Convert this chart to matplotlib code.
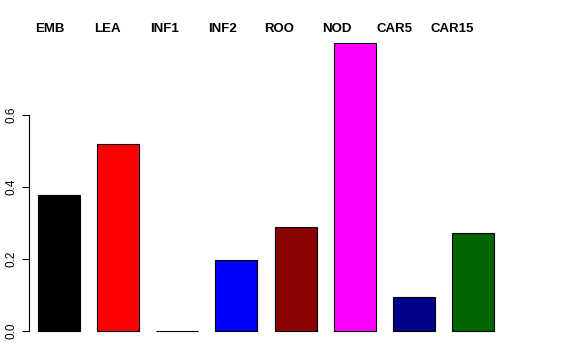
import matplotlib
matplotlib.use("Agg")
import matplotlib.pyplot as plt

plt.rcParams['font.family'] = ['Liberation Sans', 'DejaVu Sans']

labels = ["EMB", "LEA", "INF1", "INF2", "ROO", "NOD", "CAR5", "CAR15"]
values = [0.378, 0.519, 0.001, 0.197, 0.289, 0.800, 0.094, 0.272]
colors = ["black", "red", "green", "blue", "#8B0000", "magenta", "#00008B", "#006400"]
yticks = [0.0, 0.2, 0.4, 0.6]

fig = plt.figure(figsize=(5.76, 3.6), dpi=100)
ax = fig.add_axes([29/576, 17.5/360, (503-29)/576, (342.5-31.5)/360])
x = list(range(len(labels)))
ax.bar(x, values, width=0.71, color=colors, edgecolor="black", linewidth=0.8)
ax.set_xlim(-0.508, 7.508)
ax.set_ylim(-0.032, 0.832)

for s in ["top", "right", "bottom"]:
    ax.spines[s].set_visible(False)
ax.spines["left"].set_bounds(0, 0.6)
ax.spines["left"].set_linewidth(0.8)
ax.set_xticks([])
ax.set_yticks(yticks)
ax.set_yticklabels([f"{t:.1f}" for t in yticks], rotation=90, va="center", fontsize=8.5)
ax.tick_params(axis="y", length=5, width=0.8, pad=3)

# labels across the top, spaced a bit tighter than the bars
for i, lab in enumerate(labels):
    fig.text((50 + 57.4 * i) / 576, 1 - 29/360, lab, ha="center", va="center",
             fontsize=9.5, fontweight="bold")

fig.savefig("out.png", dpi=100)
